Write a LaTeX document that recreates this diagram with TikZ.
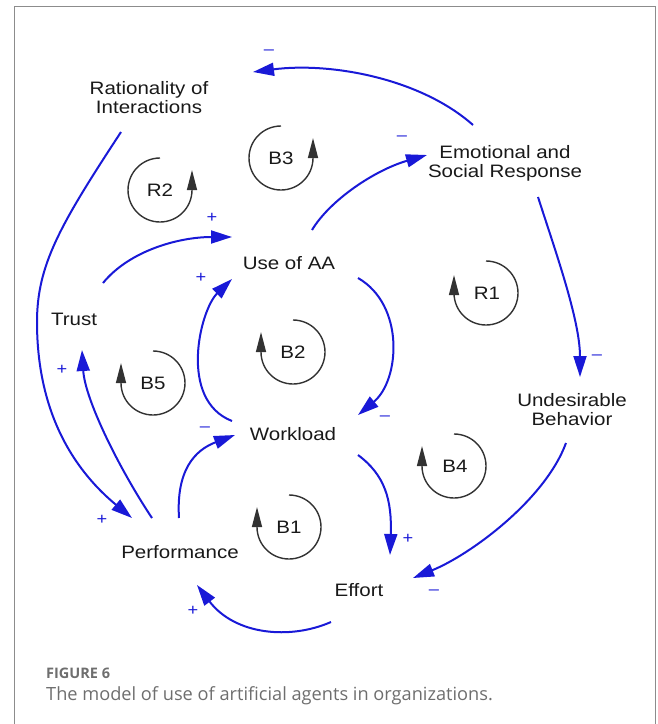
\documentclass[tikz,border=0pt]{standalone}
\usepackage{fontspec}
\setmainfont{Liberation Sans}[FakeStretch=1.14]
\newfontfamily\capfont{Open Sans}
\usetikzlibrary{arrows.meta,calc}
\definecolor{cblue}{RGB}{25,25,215}
\definecolor{loopgray}{RGB}{50,50,50}
\definecolor{capgray}{RGB}{110,110,110}
\definecolor{framegray}{RGB}{140,140,140}
\definecolor{txt}{RGB}{25,25,25}
\begin{document}
\begin{tikzpicture}[x=1pt,y=-1pt,
  var/.style={font=\fontsize{18}{19}\selectfont, align=center, inner sep=0pt, text=txt},
  conn/.style={draw=cblue, line width=2pt, -{Triangle[length=21pt,width=13pt]}},
  sgn/.style={text=cblue, font=\fontsize{16}{16}\selectfont, inner sep=0pt},
  lp/.style={draw=loopgray, line width=1.4pt, -{Triangle[length=20pt,width=10pt]}},
  lbl/.style={font=\fontsize{18}{19}\selectfont, inner sep=0pt, text=txt}]
\useasboundingbox (0,0) rectangle (657,724);
% frame
\draw[framegray, line width=1.5pt] (14.5,724) -- (14.5,6.5) -- (655.5,6.5) -- (655.5,724);
% variables
\node[var] (rat) at (149,98) {Rationality of\\Interactions};
\node[var] (emo) at (505,163) {Emotional and\\Social Response};
\node[var] (use) at (289,263) {Use of AA};
\node[var] (trust) at (74,319) {Trust};
\node[var] (work) at (293,434) {Workload};
\node[var] (undes) at (572,410) {Undesirable\\Behavior};
\node[var] (perf) at (180,552) {Performance};
\node[var] (effort) at (359,590) {Effort};
% connectors
\draw[conn] ($(emo)+(-32,-38)$) .. controls (420,78) and (330,62) .. ($(rat)+(104,-26)$);
\draw[conn] ($(rat)+(-28,34)$) .. controls (60,225) and (37,265) .. (37,322) .. controls (37,420) and (80,475) .. ($(perf)+(-48,-34)$);
\draw[conn] ($(emo)+(33,34)$) .. controls (555,250) and (580,320) .. ($(undes)+(8,-33)$);
\draw[conn] ($(undes)+(-6,33)$) .. controls (545,500) and (470,555) .. ($(effort)+(54,-12)$);
\draw[conn] ($(use)+(23,-33)$) .. controls (330,200) and (375,170) .. ($(emo)+(-78,-8)$);
\draw[conn] ($(trust)+(29,-36)$) .. controls (130,250) and (180,237) .. ($(use)+(-57,-26)$);
\draw[conn] ($(work)+(-61,-13)$) .. controls (178,400) and (200,310) .. ($(use)+(-57,16)$);
\draw[conn] ($(use)+(69,15)$) .. controls (405,305) and (400,380) .. ($(work)+(65,-19)$);
\draw[conn] ($(perf)+(-28,-34)$) .. controls (120,470) and (85,400) .. ($(trust)+(8,31)$);
\draw[conn] ($(perf)+(-1,-34)$) .. controls (176,470) and (195,450) .. ($(work)+(-58,1)$);
\draw[conn] ($(work)+(65,21)$) .. controls (385,475) and (392,500) .. ($(effort)+(31,-35)$);
\draw[conn] ($(effort)+(-28,32)$) .. controls (290,640) and (235,635) .. ($(perf)+(17,33)$);
% signs
\node[sgn] (s1) at (269,52) {\textendash};
\node[sgn] (s2) at (102,520) {+};
\node[sgn] (s3) at (597,357) {\textendash};
\node[sgn] (s4) at (434,592) {\textendash};
\node[sgn] (s5) at (402,138) {\textendash};
\node[sgn] (s6) at (212,218) {+};
\node[sgn] (s7) at (201,278) {+};
\node[sgn] (s8) at (385,418) {\textendash};
\node[sgn] (s9) at (62,370) {+};
\node[sgn] (s10) at (205,429) {\textendash};
\node[sgn] (s11) at (408,539) {+};
\node[sgn] (s12) at (193,611) {+};
% loops
\node[lbl] (R2) at (160,190) {R2};
\node[lbl] (B3) at (281,158) {B3};
\node[lbl] (R1) at (487,293) {R1};
\node[lbl] (B2) at (293,352) {B2};
\node[lbl] (B5) at (153,383) {B5};
\node[lbl] (B4) at (455,466) {B4};
\node[lbl] (B1) at (289,527) {B1};
\draw[lp] ($(R2)+(0,-32)$) arc[start angle=270, end angle=0, radius=32] -- ++(0,-20);
\draw[lp] ($(B3)+(0,-32)$) arc[start angle=270, end angle=0, radius=32] -- ++(0,-20);
\draw[lp] ($(R1)+(-1,-32)$) arc[start angle=-90, end angle=180, radius=32] -- ++(0,-18);
\draw[lp] ($(B2)+(0,-32)$) arc[start angle=-90, end angle=180, radius=32] -- ++(0,-20);
\draw[lp] ($(B5)+(0,-32)$) arc[start angle=-90, end angle=180, radius=32] -- ++(0,-20);
\draw[lp] ($(B4)+(-1,-32)$) arc[start angle=-90, end angle=180, radius=32] -- ++(0,-20);
\draw[lp] ($(B1)+(0,-32)$) arc[start angle=-90, end angle=180, radius=32] -- ++(0,-20);
% caption
\node[anchor=west, inner sep=0pt, text=capgray, font=\capfont\bfseries\fontsize{14.5}{15}\selectfont] (fig) at (46,673) {FIGURE 6};
\node[anchor=west, inner sep=0pt, text=capgray, font=\capfont\fontsize{18.2}{19}\selectfont] (cap) at (46,696) {The model of use of artificial agents in organizations.};
\end{tikzpicture}
\end{document}
